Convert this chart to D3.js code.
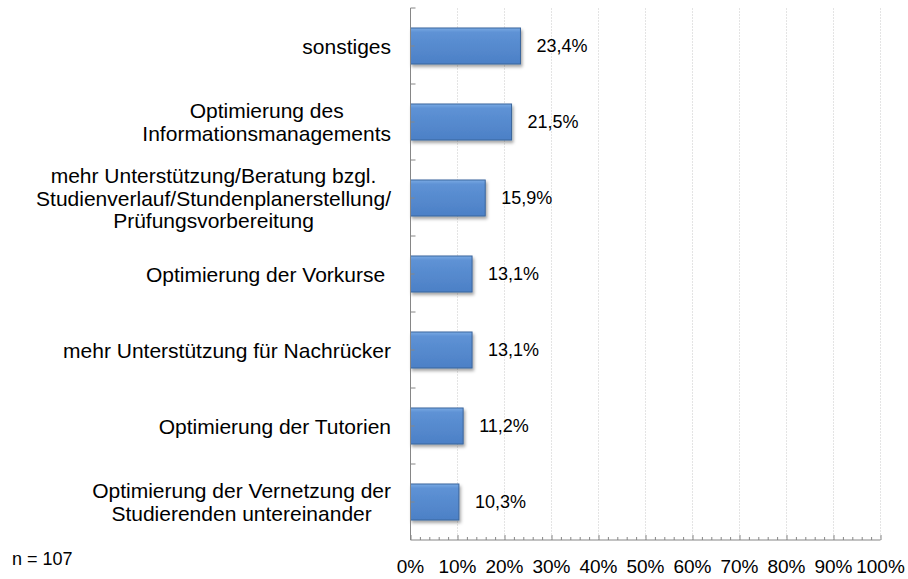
<!DOCTYPE html>
<html>
<head>
<meta charset="utf-8">
<script src="https://cdn.jsdelivr.net/npm/d3@7"></script>
<style>
  body { margin: 0; background: #fff; }
  text { font-family: "Liberation Sans", Arial, sans-serif; fill: #000; }
</style>
</head>
<body>
<div id="chart"></div>
<script>
const WIDTH = 908;
const HEIGHT = 579;
const PLOT = {LEFT: 410.5, RIGHT: 880.5, TOP: 8, BOTTOM: 540};

// data
const categories = [
    "sonstiges",
    "Optimierung des\nInformationsmanagements",
    "mehr Unterstützung/Beratung bzgl.\nStudienverlauf/Stundenplanerstellung/\nPrüfungsvorbereitung",
    "Optimierung der Vorkurse ",
    "mehr Unterstützung für Nachrücker",
    "Optimierung der Tutorien",
    "Optimierung der Vernetzung der\nStudierenden untereinander"
];
const values = [23.4, 21.5, 15.9, 13.1, 13.1, 11.2, 10.3];
const xTickValues = [0, 10, 20, 30, 40, 50, 60, 70, 80, 90, 100];
const sampleNote = "n = 107";

const rows = categories.map((c, i) => ({cat: c, val: values[i]}));

const svg = d3.select("#chart").append("svg")
    .attr("width", WIDTH)
    .attr("height", HEIGHT);

const defs = svg.append("defs");
const grad = defs.append("linearGradient")
    .attr("id", "barGrad")
    .attr("x1", 0).attr("y1", 0).attr("x2", 0).attr("y2", 1);
grad.append("stop").attr("offset", "0%").attr("stop-color", "#7aaae4");
grad.append("stop").attr("offset", "12%").attr("stop-color", "#5e92d5");
grad.append("stop").attr("offset", "100%").attr("stop-color", "#4c80c6");

const shadow = defs.append("filter")
    .attr("id", "barShadow")
    .attr("x", "-10%").attr("y", "-20%").attr("width", "130%").attr("height", "160%");
shadow.append("feDropShadow")
    .attr("dx", 1.5).attr("dy", 2.5)
    .attr("stdDeviation", 1.6)
    .attr("flood-color", "#000")
    .attr("flood-opacity", 0.35);

const x = d3.scaleLinear().domain([0, 100]).range([PLOT.LEFT, PLOT.RIGHT]);
const y = d3.scaleBand()
    .domain(categories)
    .range([PLOT.TOP, PLOT.BOTTOM])
    .paddingInner(0.526)
    .paddingOuter(0.263);

// grid lines
svg.append("g")
    .selectAll("line")
    .data(xTickValues.slice(1))
    .enter()
    .append("line")
    .attr("x1", d => x(d))
    .attr("x2", d => x(d))
    .attr("y1", PLOT.TOP)
    .attr("y2", PLOT.BOTTOM)
    .attr("stroke", "#e4e4e4")
    .attr("stroke-dasharray", "2,1")
    .attr("stroke-width", 1);

// bars
svg.append("g")
    .selectAll("rect")
    .data(rows)
    .enter()
    .append("rect")
    .attr("x", x(0))
    .attr("y", d => y(d.cat))
    .attr("width", d => x(d.val) - x(0))
    .attr("height", y.bandwidth())
    .attr("fill", "url(#barGrad)")
    .attr("stroke", "#3a659c")
    .attr("stroke-width", 1)
    .attr("filter", "url(#barShadow)");

// x axis with minor ticks
const minorTicks = d3.range(0, 101, 2);
const xAxis = svg.append("g")
    .attr("transform", `translate(0, ${PLOT.BOTTOM})`)
    .call(d3.axisBottom(x).tickValues(minorTicks).tickSize(-3).tickFormat(""));
xAxis.select(".domain").attr("stroke", "#868686").attr("d", `M${x(0)},0H${x(100)}`);
xAxis.selectAll(".tick line")
    .attr("stroke", "#868686")
    .attr("y2", d => d % 10 === 0 ? -5 : -3);

svg.append("g")
    .selectAll("text")
    .data(xTickValues)
    .enter()
    .append("text")
    .attr("x", d => x(d))
    .attr("y", 573)
    .attr("text-anchor", "middle")
    .attr("font-size", "19px")
    .text(d => d + "%");

// y axis
const yAxis = svg.append("g").attr("transform", `translate(${PLOT.LEFT}, 0)`);
yAxis.append("line")
    .attr("y1", PLOT.TOP).attr("y2", PLOT.BOTTOM)
    .attr("stroke", "#868686");
const bounds = categories.map(c => y(c) - y.step() * y.paddingOuter()).concat([PLOT.BOTTOM]);
yAxis.selectAll("line.major")
    .data(bounds.slice(0, -1))
    .enter()
    .append("line")
    .attr("class", "major")
    .attr("x1", 0).attr("x2", 5)
    .attr("y1", d => d).attr("y2", d => d)
    .attr("stroke", "#868686");
yAxis.selectAll("line.mid")
    .data(categories)
    .enter()
    .append("line")
    .attr("class", "mid")
    .attr("x1", 0).attr("x2", 4)
    .attr("y1", d => y(d) + y.bandwidth() / 2)
    .attr("y2", d => y(d) + y.bandwidth() / 2)
    .attr("stroke", "#868686");

// category labels, lines centered, block right-aligned
const LABEL_RIGHT = 391;
const LINE_H = 22.5;
categories.forEach(c => {
    const lines = c.split("\n");
    const cy = y(c) + y.bandwidth() / 2;
    const g = svg.append("text")
        .attr("font-size", "21px")
        .attr("text-anchor", "middle")
        .style("white-space", "pre");
    const spans = lines.map((l, i) => g.append("tspan")
        .attr("y", cy + (i - (lines.length - 1) / 2) * LINE_H)
        .attr("dominant-baseline", "central")
        .text(l));
    const maxW = d3.max(spans, s => s.node().getComputedTextLength());
    spans.forEach(s => s.attr("x", LABEL_RIGHT - maxW / 2));
});

// value labels
svg.append("g")
    .selectAll("text")
    .data(rows)
    .enter()
    .append("text")
    .attr("x", d => x(d.val) + 16)
    .attr("y", d => y(d.cat) + y.bandwidth() / 2)
    .attr("dominant-baseline", "central")
    .attr("font-size", "18px")
    .text(d => d.val.toFixed(1).replace(".", ",") + "%");

// sample size
svg.append("text")
    .attr("x", 12)
    .attr("y", 565)
    .attr("font-size", "18px")
    .text(sampleNote);
</script>
</body>
</html>
